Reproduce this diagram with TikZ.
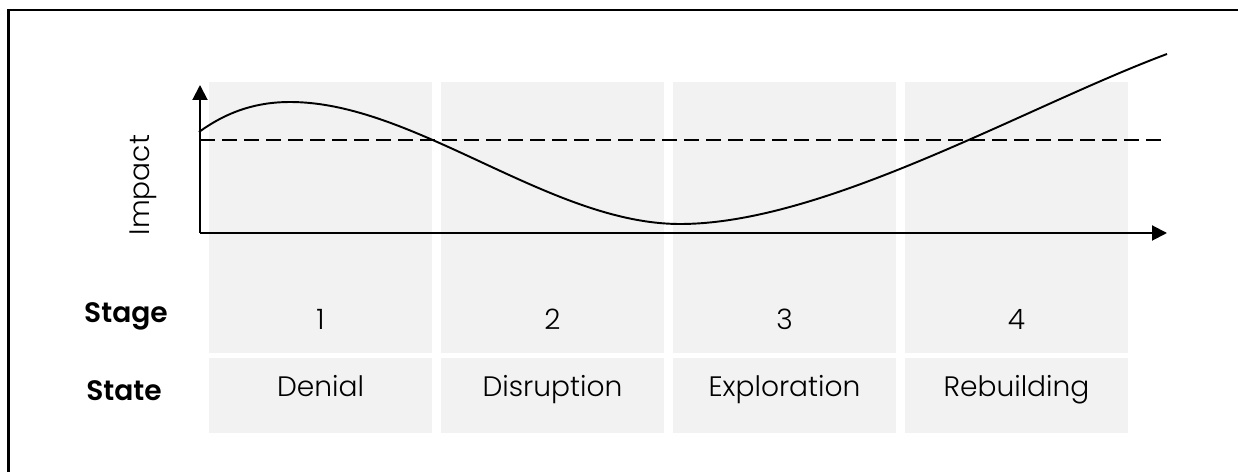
\documentclass[tikz,border=0pt]{standalone}
\usepackage{fontspec}
\setmainfont{Poppins}[UprightFont={* Light},BoldFont={* SemiBold}]
\usepackage{xcolor}
\usetikzlibrary{arrows.meta}
\definecolor{cellgrey}{HTML}{F2F2F2}

\begin{document}
\begin{tikzpicture}[>={Triangle[length=0.3cm,width=0.3cm]}, line width=1.1pt, font=\fontsize{16}{19}\selectfont]
            \useasboundingbox (0,0) rectangle (24.76,9.44);
            \draw[line width=1.4pt] (0.17,0) -- (0.17,9.24) -- (24.76,9.24);

            \fill[cellgrey] (4.18,2.38) rectangle ++(4.46,5.42);
            \fill[cellgrey] (8.82,2.38) rectangle ++(4.46,5.42);
            \fill[cellgrey] (13.46,2.38) rectangle ++(4.46,5.42);
            \fill[cellgrey] (18.10,2.38) rectangle ++(4.46,5.42);

            \fill[cellgrey] (4.18,0.78) rectangle ++(4.46,1.50);
            \fill[cellgrey] (8.82,0.78) rectangle ++(4.46,1.50);
            \fill[cellgrey] (13.46,0.78) rectangle ++(4.46,1.50);
            \fill[cellgrey] (18.10,0.78) rectangle ++(4.46,1.50);

            \coordinate (origin) at (4.00,4.78);
            \coordinate (ytop) at (4.00,7.74);
            \coordinate (xend) at (23.34,4.78);
            \coordinate (dashend) at (23.24,6.64);

            \draw[->] (origin) -- (ytop);
            \draw[->] (origin) -- (xend);
            \draw[dash pattern=on 0.3cm off 0.14cm] (origin |- dashend) -- (dashend);

            \draw (3.98,6.80) .. controls (4.6,7.25) and (5.2,7.40) .. (5.80,7.40)
                  .. controls (8.3,7.40) and (11.0,4.96) .. (13.60,4.96)
                  .. controls (16.5,4.96) and (20.5,7.30) .. (23.34,8.36);

            \node[rotate=90] (impact) at (2.86,5.74) {Impact};

            \node[anchor=base, font=\fontsize{16}{19}\selectfont\bfseries] (stage) at (2.52,2.98) {Stage};
            \node[anchor=base] (n1) at (6.41,2.84) {1};
            \node[anchor=base] (n2) at (11.05,2.84) {2};
            \node[anchor=base] (n3) at (15.69,2.84) {3};
            \node[anchor=base] (n4) at (20.33,2.84) {4};

            \node[anchor=base, font=\fontsize{16}{19}\selectfont\bfseries] (state) at (2.48,1.42) {State};
            \node[anchor=base] (denial) at (6.41,1.50) {Denial};
            \node[anchor=base] (disruption) at (11.05,1.50) {Disruption};
            \node[anchor=base] (exploration) at (15.69,1.50) {Exploration};
            \node[anchor=base] (rebuilding) at (20.33,1.50) {Rebuilding};
        \end{tikzpicture}
\end{document}
